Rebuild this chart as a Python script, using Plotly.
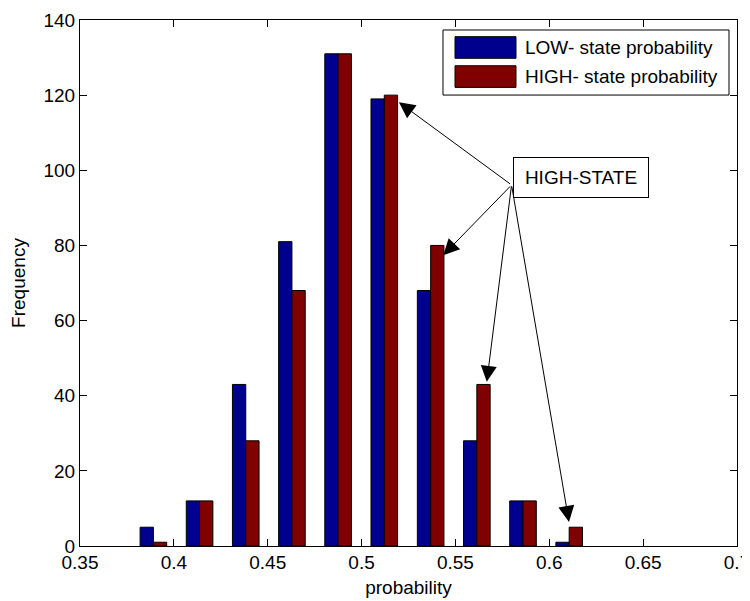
import plotly.graph_objects as go

# ---- data ----
bin_centers = [0.3891, 0.4137, 0.4383, 0.4629, 0.4875, 0.5121, 0.5368, 0.5614, 0.5860, 0.6106]
low_freq = [5, 12, 43, 81, 131, 119, 68, 28, 12, 1]
high_freq = [1, 12, 28, 68, 131, 120, 80, 43, 12, 5]
series_names = ["LOW- state probability", "HIGH- state probability"]
series_colors = ["rgb(0,0,143)", "rgb(128,0,0)"]
x_ticks = [0.35, 0.4, 0.45, 0.5, 0.55, 0.6, 0.65, 0.7]
y_ticks = [0, 20, 40, 60, 80, 100, 120, 140]

# annotation arrows (HIGH-STATE): tail point and tips
label_text = "HIGH-STATE"
label_pos = (0.6169, 98.1)
arrow_tail = (0.5799, 96.1)
arrow_tips_x = [0.5199, 0.5435, 0.5667, 0.6105]
arrow_tips_y = [118.1, 77.4, 43.7, 6.4]

FONT = "Liberation Sans, Arial, sans-serif"
FS = 19

fig = go.Figure()
for name, vals, col in zip(series_names, [low_freq, high_freq], series_colors):
    fig.add_trace(go.Bar(
        x=bin_centers, y=vals, name=name,
        marker=dict(color=col, line=dict(color="black", width=1)),
        showlegend=False,
    ))

annotations = []
for tx, ty in zip(arrow_tips_x, arrow_tips_y):
    annotations.append(dict(
        x=tx, y=ty, xref="x", yref="y",
        ax=arrow_tail[0], ay=arrow_tail[1], axref="x", ayref="y",
        text="", showarrow=True, arrowhead=2, arrowsize=3.2, arrowwidth=1,
        arrowcolor="black", standoff=0,
    ))
annotations.append(dict(
    x=label_pos[0], y=label_pos[1], xref="x", yref="y",
    text=label_text, showarrow=False,
    font=dict(family=FONT, size=FS, color="black"),
    bgcolor="white", bordercolor="black", borderwidth=1, borderpad=0,
    width=134, height=39,
))

# custom legend (MATLAB style)
shapes = [
    dict(type="rect", xref="paper", yref="paper", x0=0.5525, x1=0.9878, y0=0.8573, y1=0.981,
         line=dict(color="black", width=1), fillcolor="white", layer="above"),
    dict(type="rect", xref="paper", yref="paper", x0=0.5708, x1=0.6636, y0=0.9272, y1=0.9683,
         line=dict(color="black", width=1), fillcolor=series_colors[0], layer="above"),
    dict(type="rect", xref="paper", yref="paper", x0=0.5708, x1=0.6636, y0=0.8719, y1=0.913,
         line=dict(color="black", width=1), fillcolor=series_colors[1], layer="above"),
]
for name, yc in zip(series_names, [0.9477, 0.8925]):
    annotations.append(dict(
        x=0.6738, y=yc, xref="paper", yref="paper", xanchor="left", yanchor="middle",
        text=name, showarrow=False, font=dict(family=FONT, size=FS, color="black"),
    ))

# the page adds an 8px body margin, so the figure is sized to compensate
fig.update_layout(
    width=742, height=593,
    margin=dict(l=72, r=13, t=12, b=55),
    paper_bgcolor="white", plot_bgcolor="white",
    barmode="group", bargap=0.424, bargroupgap=0,
    font=dict(family=FONT, size=FS, color="black"),
    annotations=annotations, shapes=shapes,
    showlegend=False,
)
fig.update_xaxes(
    range=[0.35, 0.7], tickvals=x_ticks, ticktext=[f"{v:g}" for v in x_ticks],
    ticks="inside", ticklen=7, tickcolor="black", showline=True, linecolor="black",
    linewidth=1, mirror="ticks", showgrid=False, zeroline=False,
    automargin=False, ticklabeloverflow="allow", ticklabelstandoff=-1,
    title=dict(text="probability", standoff=8, font=dict(size=FS)),
    tickfont=dict(size=FS),
)
fig.update_yaxes(
    range=[0, 140], tickvals=y_ticks,
    ticks="inside", ticklen=7, tickcolor="black", showline=True, linecolor="black",
    linewidth=1, mirror="ticks", showgrid=False, zeroline=False,
    automargin=False,
    title=dict(text="Frequency", standoff=12, font=dict(size=FS)),
    tickfont=dict(size=FS),
)

fig.write_html("out.html")
